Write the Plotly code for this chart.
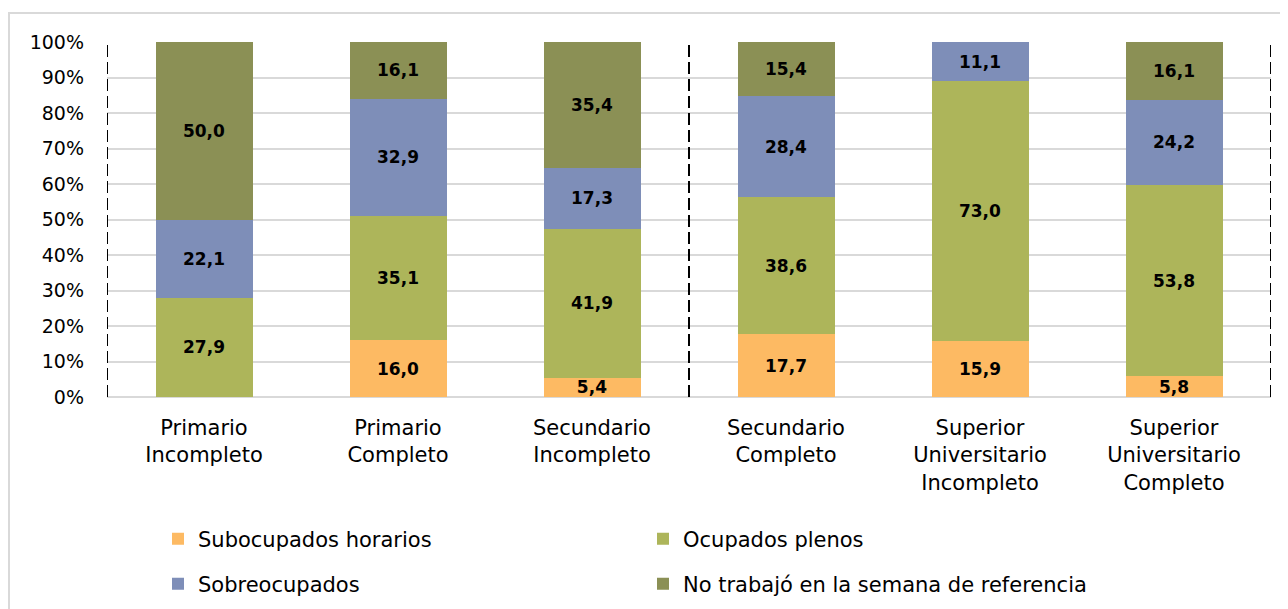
import plotly.graph_objects as go

categories = ["Primario<br>Incompleto", "Primario<br>Completo", "Secundario<br>Incompleto",
              "Secundario<br>Completo", "Superior<br>Universitario<br>Incompleto",
              "Superior<br>Universitario<br>Completo"]
subocupados = [None, 16.0, 5.4, 17.7, 15.9, 5.8]
ocupados = [27.9, 35.1, 41.9, 38.6, 73.0, 53.8]
sobreocupados = [22.1, 32.9, 17.3, 28.4, 11.1, 24.2]
no_trabajo = [50.0, 16.1, 35.4, 15.4, None, 16.1]
y_ticks = list(range(0, 101, 10))
y_tick_labels = [f"{v}%" for v in y_ticks]

series = [
    ("Subocupados horarios", subocupados, "#FDBA63", "legend"),
    ("Ocupados plenos", ocupados, "#ADB55A", "legend"),
    ("Sobreocupados", sobreocupados, "#7E8EB8", "legend2"),
    ("No trabajó en la semana de referencia", no_trabajo, "#8B9055", "legend2"),
]

FONT = "DejaVu Sans"

# The page body has an 8px margin: screen = figure + 8.
OFF = 8
PL, PT, PW, PH = 107, 42, 1164, 355  # plot area on screen
FIG_W, FIG_H = 1288 - OFF, 609 + OFF


def px_x(sx):
    return (sx - PL) / PW


def px_y(sy):
    return (PT + PH - sy) / PH


fig = go.Figure()
for name, vals, color, leg in series:
    fig.add_trace(go.Bar(
        x=categories, y=vals, name=name, marker=dict(color=color, line=dict(width=0)),
        texttemplate="%{y:.1f}", textposition="inside", insidetextanchor="middle",
        textfont=dict(family=FONT, size=17, color="black", weight="bold"),
        constraintext="none", legend=leg,
    ))

shapes = []
for xv in [-0.5, 2.5, 5.5]:
    shapes.append(dict(type="line", xref="x", yref="y", x0=xv, x1=xv, y0=0, y1=100,
                       line=dict(color="black", width=2, dash="12px,5px"), layer="above"))
# outer chart border
shapes.append(dict(type="rect", xref="paper", yref="paper",
                   x0=px_x(9), x1=px_x(1300), y0=px_y(640), y1=px_y(13),
                   line=dict(color="#D9D9D9", width=2), fillcolor="rgba(0,0,0,0)", layer="below"))

legend_common = dict(orientation="h", xanchor="left", yanchor="middle", traceorder="normal",
                     entrywidth=440, entrywidthmode="pixels",
                     font=dict(family=FONT, size=21), bgcolor="rgba(0,0,0,0)")

fig.update_layout(
    width=FIG_W, height=FIG_H,
    barmode="stack", bargap=0.5,
    separators=",.",
    plot_bgcolor="white", paper_bgcolor="white",
    margin=dict(l=PL - OFF, r=(FIG_W + OFF) - (PL + PW), t=PT - OFF,
                b=(FIG_H + OFF) - (PT + PH)),
    font=dict(family=FONT, size=19, color="black"),
    uniformtext=dict(minsize=17, mode="show"),
    shapes=shapes,
    legend=dict(x=px_x(158), y=px_y(539), **legend_common),
    legend2=dict(x=px_x(158), y=px_y(584), **legend_common),
    xaxis=dict(type="category", range=[-0.5, 5.5], showline=False, ticks="",
               tickfont=dict(family=FONT, size=21), ticklabelstandoff=16),
    yaxis=dict(range=[0, 100], tickvals=y_ticks, ticktext=y_tick_labels,
               showgrid=True, gridcolor="#D9D9D9", gridwidth=2,
               zeroline=True, zerolinecolor="#D9D9D9", zerolinewidth=2,
               showline=False, ticks="", ticklabelstandoff=22,
               tickfont=dict(family=FONT, size=19)),
)

fig.write_html("out.html")
